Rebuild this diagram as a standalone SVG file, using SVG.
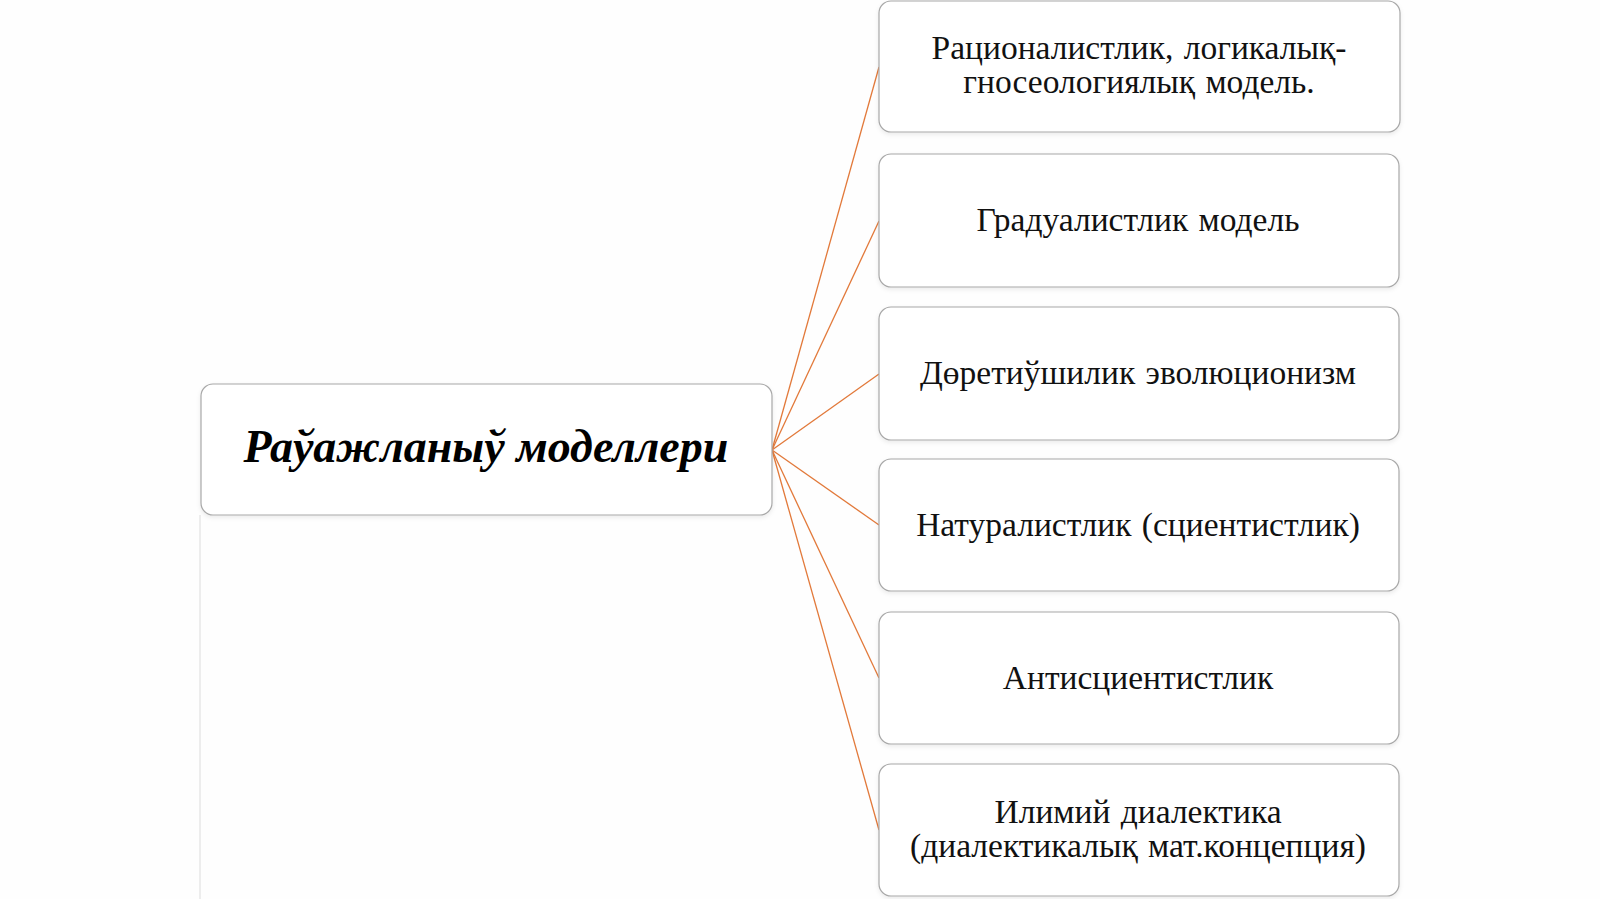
<svg xmlns="http://www.w3.org/2000/svg" width="1600" height="899" viewBox="0 0 1600 899">
<defs>
<style>
.box{fill:#ffffff;stroke:#a8a8a8;stroke-width:1.2}
.t{font-family:"Liberation Serif","Times New Roman",serif;font-size:33.5px;fill:#111;text-anchor:middle;word-spacing:2px}
.title{font-family:"Liberation Serif","Times New Roman",serif;font-size:46px;font-weight:bold;font-style:italic;fill:#000;text-anchor:middle}
.c{stroke:#e2793a;stroke-width:1.3;fill:none}
</style>
<filter id="sh" x="-5%" y="-5%" width="110%" height="115%">
<feDropShadow dx="0" dy="2" stdDeviation="2" flood-color="#000" flood-opacity="0.08"/>
</filter>
</defs>
<rect width="1600" height="899" fill="#fefefe"/>
<line x1="200" y1="515" x2="200" y2="899" stroke="#dcdcdc" stroke-width="1"/>
<g id="connectors">
<line class="c" x1="772" y1="450" x2="879" y2="67"/>
<line class="c" x1="772" y1="450" x2="879" y2="221"/>
<line class="c" x1="772" y1="450" x2="879" y2="374"/>
<line class="c" x1="772" y1="450" x2="879" y2="525"/>
<line class="c" x1="772" y1="450" x2="879" y2="678"/>
<line class="c" x1="772" y1="450" x2="879" y2="830"/>
</g>
<g id="root">
<rect class="box" filter="url(#sh)" x="201" y="384" width="571" height="131" rx="12"/>
<text class="title" x="486" y="462">Раўажланыў моделлери</text>
</g>
<g id="n1">
<rect class="box" filter="url(#sh)" x="879" y="1" width="521" height="131" rx="12"/>
<text class="t" x="1139" y="59">Рационалистлик, логикалық-</text>
<text class="t" x="1139" y="93">гносеологиялық модель.</text>
</g>
<g id="n2">
<rect class="box" filter="url(#sh)" x="879" y="154" width="520" height="133" rx="12"/>
<text class="t" x="1138" y="231">Градуалистлик модель</text>
</g>
<g id="n3">
<rect class="box" filter="url(#sh)" x="879" y="307" width="520" height="133" rx="12"/>
<text class="t" x="1138" y="384">Дөретиўшилик эволюционизм</text>
</g>
<g id="n4">
<rect class="box" filter="url(#sh)" x="879" y="459" width="520" height="132" rx="12"/>
<text class="t" x="1138" y="536">Натуралистлик (сциентистлик)</text>
</g>
<g id="n5">
<rect class="box" filter="url(#sh)" x="879" y="612" width="520" height="132" rx="12"/>
<text class="t" x="1138" y="689">Антисциентистлик</text>
</g>
<g id="n6">
<rect class="box" filter="url(#sh)" x="879" y="764" width="520" height="132" rx="12"/>
<text class="t" x="1138" y="823">Илимий диалектика</text>
<text class="t" x="1138" y="857">(диалектикалық мат.концепция)</text>
</g>
</svg>
